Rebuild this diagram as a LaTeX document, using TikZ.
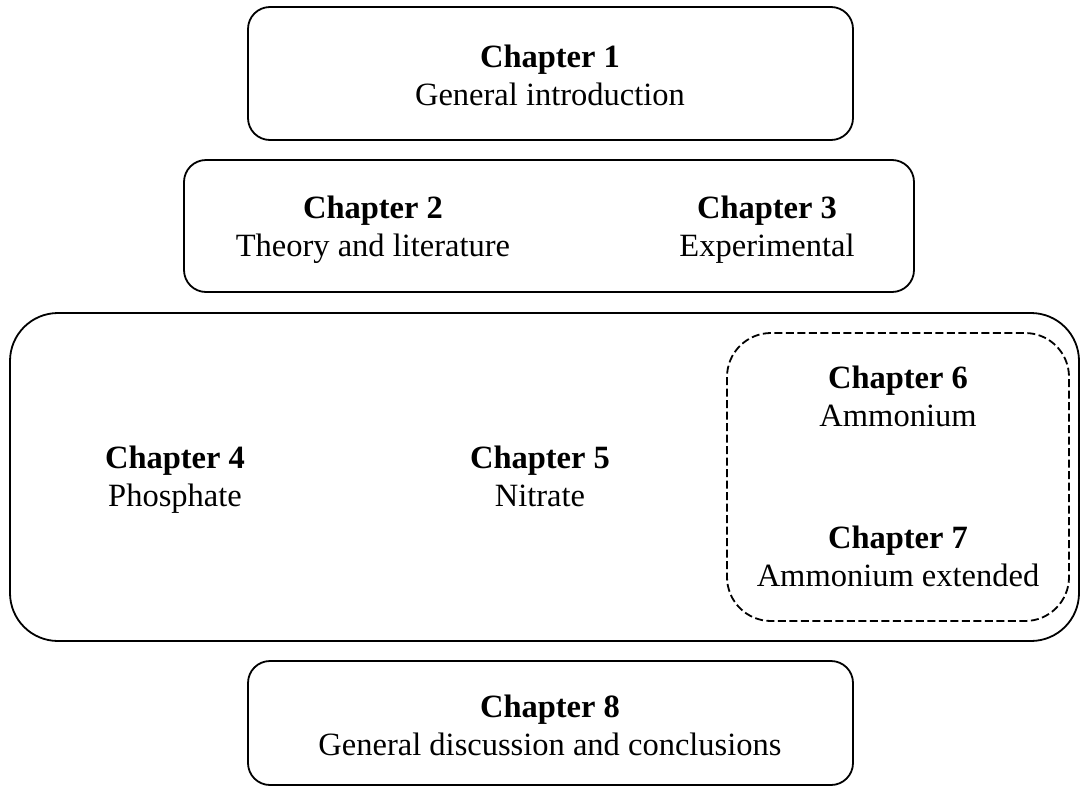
\documentclass[tikz,border=0pt]{standalone}
\usepackage{fontspec}
\setmainfont{Liberation Serif}
\newcommand{\tstrut}{\rule{0pt}{24pt}}
\newcommand{\bstrut}{\rule[-8pt]{0pt}{8pt}}
\begin{document}
\begin{tikzpicture}[x=1pt,y=-1pt,
  chbox/.style={draw, line width=1.8pt, rounded corners=22pt},
  bigbox/.style={draw, line width=1.8pt, rounded corners=48pt},
  dbox/.style={draw, line width=1.8pt, dash pattern=on 8pt off 3.5pt, rounded corners=44pt},
  lab/.style={align=center, font=\fontsize{32.5}{38.5}\selectfont, inner sep=0pt}]
\useasboundingbox (0,0) rectangle (1081,790);
\draw[chbox] (248,7) rectangle (853,140);
\draw[chbox] (184,160) rectangle (914,292);
\draw[bigbox] (10,313) rectangle (1079,641);
\draw[dbox] (727,333) rectangle (1069,621);
\draw[chbox] (248,661) rectangle (853,785);
\node[lab] (c1) at (550,78.25) {\tstrut\textbf{Chapter 1}\\General introduction\bstrut};
\node[lab] (c2) at (373,229.25) {\tstrut\textbf{Chapter 2}\\Theory and literature\bstrut};
\node[lab] (c3) at (767,229.25) {\tstrut\textbf{Chapter 3}\\Experimental\bstrut};
\node[lab] (c4) at (175,479.25) {\tstrut\textbf{Chapter 4}\\Phosphate\bstrut};
\node[lab] (c5) at (540,479.25) {\tstrut\textbf{Chapter 5}\\Nitrate\bstrut};
\node[lab] (c6) at (898,399.25) {\tstrut\textbf{Chapter 6}\\Ammonium\bstrut};
\node[lab] (c7) at (898,559.25) {\tstrut\textbf{Chapter 7}\\Ammonium extended\bstrut};
\node[lab] (c8) at (550,728.25) {\tstrut\textbf{Chapter 8}\\General discussion and conclusions\bstrut};
\end{tikzpicture}
\end{document}
